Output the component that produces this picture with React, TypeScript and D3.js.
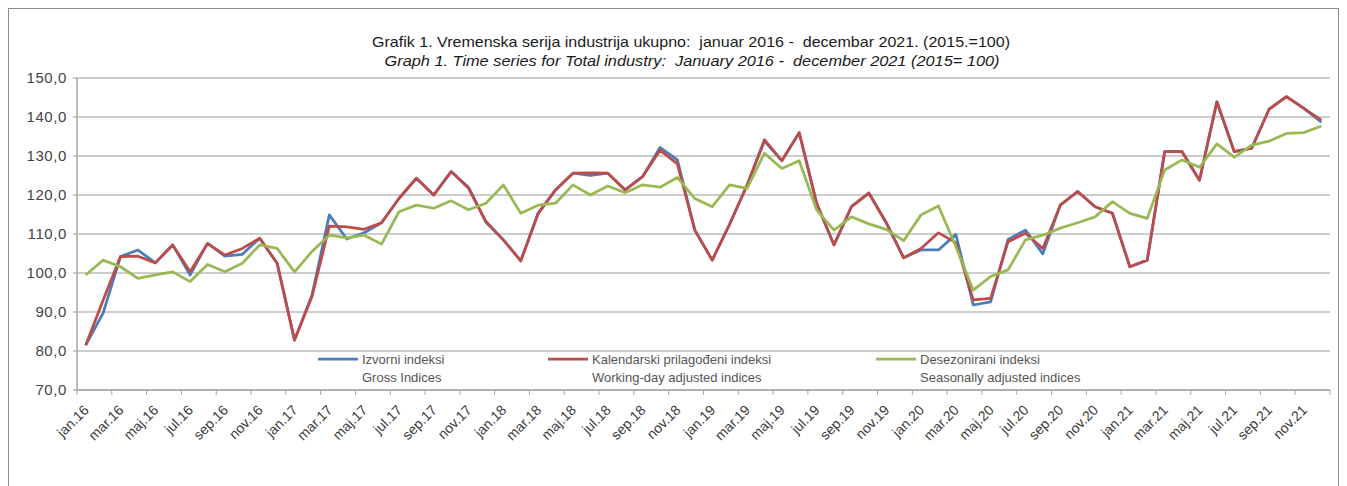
import React from 'react';
import * as d3 from 'd3';

// kategorije: mjeseci jan.16 - dec.21
const months = ['jan', 'feb', 'mar', 'apr', 'maj', 'jun', 'jul', 'avg', 'sep', 'okt', 'nov', 'dec'];
const years = ['16', '17', '18', '19', '20', '21'];
const categories = years.flatMap(y => months.map(m => `${m}.${y}`));

// Izvorni indeksi / Gross indices
const grossIndices = [
  81.5, 89.7, 104.2, 105.9, 102.6, 107.2, 99.5, 107.6, 104.3, 104.8, 108.9, 102.5,
  82.8, 94.3, 114.9, 108.7, 110.3, 112.9, 119.1, 124.3, 120.0, 126.0, 122.0, 113.0,
  108.5, 103.1, 115.3, 121.3, 125.6, 125.0, 125.6, 121.3, 124.7, 132.2, 129.0, 111.0,
  103.3, 112.5, 122.5, 133.8, 128.8, 136.0, 117.9, 107.2, 117.0, 120.5, 112.9, 103.9,
  105.9, 105.9, 109.9, 91.8, 92.6, 108.6, 111.0, 104.9, 117.4, 120.9, 117.0, 115.3,
  101.6, 103.3, 131.1, 131.1, 123.8, 143.9, 131.1, 132.0, 142.0, 145.2, 142.2, 138.7,
];

// Kalendarski prilagođeni indeksi / Working-day adjusted indices
const workingDayIndices = [
  81.5, 93.0, 104.2, 104.3, 102.6, 107.2, 100.3, 107.6, 104.6, 106.3, 108.9, 102.5,
  82.8, 93.9, 112.0, 111.8, 111.2, 112.9, 119.1, 124.3, 120.0, 126.0, 121.7, 113.2,
  108.5, 103.1, 115.3, 121.3, 125.6, 125.7, 125.6, 121.3, 124.7, 131.5, 128.0, 111.0,
  103.3, 112.5, 122.5, 134.2, 128.8, 136.0, 117.9, 107.2, 117.0, 120.5, 112.9, 103.9,
  106.3, 110.3, 107.8, 93.1, 93.5, 108.0, 110.2, 106.3, 117.4, 120.9, 117.0, 115.3,
  101.6, 103.3, 131.1, 131.1, 123.8, 143.9, 131.1, 132.0, 142.0, 145.2, 142.2, 139.2,
];

// Desezonirani indeksi / Seasonally adjusted indices
const seasonalIndices = [
  99.5, 103.3, 101.6, 98.6, 99.5, 100.3, 97.8, 102.2, 100.3, 102.5, 107.2, 106.3,
  100.3, 105.5, 109.7, 109.0, 109.7, 107.4, 115.7, 117.4, 116.6, 118.5, 116.2, 117.9,
  122.6, 115.3, 117.4, 117.9, 122.6, 120.0, 122.3, 120.6, 122.6, 122.0, 124.5, 119.1,
  117.0, 122.6, 121.7, 130.7, 126.8, 128.8, 116.2, 111.0, 114.4, 112.6, 111.2, 108.3,
  114.9, 117.2, 106.8, 95.6, 99.1, 100.8, 108.5, 109.7, 111.5, 112.9, 114.4, 118.3,
  115.3, 114.0, 126.4, 129.0, 127.1, 133.1, 129.7, 132.8, 133.8, 135.8, 136.0, 137.7,
];

const yTicks = [70, 80, 90, 100, 110, 120, 130, 140, 150];

const series = [
  { name: 'Izvorni indeksi', sub: 'Gross Indices', values: grossIndices, color: '#4a7ebb', lx: 318 },
  { name: 'Kalendarski prilagođeni indeksi', sub: 'Working-day adjusted indices', values: workingDayIndices, color: '#be4b48', lx: 548 },
  { name: 'Desezonirani indeksi', sub: 'Seasonally adjusted indices', values: seasonalIndices, color: '#98b954', lx: 876 },
];

const W = 1347;
const H = 486;
const left = 77;
const right = 1330;
const top = 78;
const bottom = 390;
const font = '"Liberation Sans", Arial, sans-serif';

export default function App() {
  const x = d3.scaleBand<string>().domain(categories).range([left, right]).padding(0);
  const y = d3.scaleLinear().domain([70, 150]).range([bottom, top]);
  const cx = (i: number) => (x(categories[i]) ?? 0) + x.bandwidth() / 2;

  const line = d3.line<number>()
    .x((_, i) => cx(i))
    .y(d => y(d));

  const fmt = (v: number) => v.toFixed(1).replace('.', ',');

  return (
    <svg width={W} height={H} style={{ position: 'absolute', left: 0, top: 0, background: '#fff' }}
      fontFamily={font}>
      <rect x={8.5} y={8.5} width={1330} height={500} fill="#fff" stroke="#8c8c8c" strokeWidth={1} />

      {/* naslov */}
      <text x={691} y={47} textAnchor="middle" fontSize={15} fill="#1a1a1a" textLength={638}
        lengthAdjust="spacingAndGlyphs" style={{ whiteSpace: 'pre' }}>
        Grafik 1. Vremenska serija industrija ukupno:  januar 2016 -  decembar 2021. (2015.=100)
      </text>
      <text x={692} y={66} textAnchor="middle" fontSize={15} fontStyle="italic" fill="#1a1a1a" textLength={615}
        lengthAdjust="spacingAndGlyphs" style={{ whiteSpace: 'pre' }}>
        Graph 1. Time series for Total industry:  January 2016 -  december 2021 (2015= 100)
      </text>

      {/* mreža i y osa */}
      {yTicks.map(t => (
        <g key={t}>
          <line x1={left - 4} x2={right} y1={y(t)} y2={y(t)} stroke="#bdbdbd" strokeWidth={1.5} />
          <text x={67} y={y(t)} dy="0.35em" textAnchor="end" fontSize={15} fill="#444" letterSpacing={0.6}>
            {fmt(t)}
          </text>
        </g>
      ))}
      <line x1={left} x2={left} y1={top} y2={bottom} stroke="#a6a6a6" strokeWidth={1.5} />

      {/* x osa */}
      <line x1={left} x2={right} y1={bottom} y2={bottom} stroke="#a6a6a6" strokeWidth={1.5} />
      {categories.map((c, i) => i % 2 === 0 ? (
        <g key={c}>
          <line x1={x(c)} x2={x(c)} y1={bottom} y2={bottom + 5} stroke="#a6a6a6" strokeWidth={1} />
          <text transform={`translate(${cx(i) + 4},${bottom + 21}) rotate(-45)`} textAnchor="end"
            fontSize={14} fill="#3a3a3a">
            {c}
          </text>
        </g>
      ) : null)}
      <line x1={right} x2={right} y1={bottom} y2={bottom + 5} stroke="#a6a6a6" strokeWidth={1} />

      {/* serije */}
      {series.map(s => (
        <path key={s.name} d={line(s.values) ?? ''} fill="none" stroke={s.color} strokeWidth={2.75}
          strokeLinejoin="round" />
      ))}

      {/* legenda */}
      {series.map(s => (
        <g key={s.name + '-leg'}>
          <line x1={s.lx} x2={s.lx + 40} y1={359} y2={359} stroke={s.color} strokeWidth={2.75} />
          <text x={s.lx + 44} y={359} dy="0.35em" fontSize={13} fill="#555">{s.name}</text>
          <text x={s.lx + 44} y={377} dy="0.35em" fontSize={13} fill="#555">{s.sub}</text>
        </g>
      ))}
    </svg>
  );
}
